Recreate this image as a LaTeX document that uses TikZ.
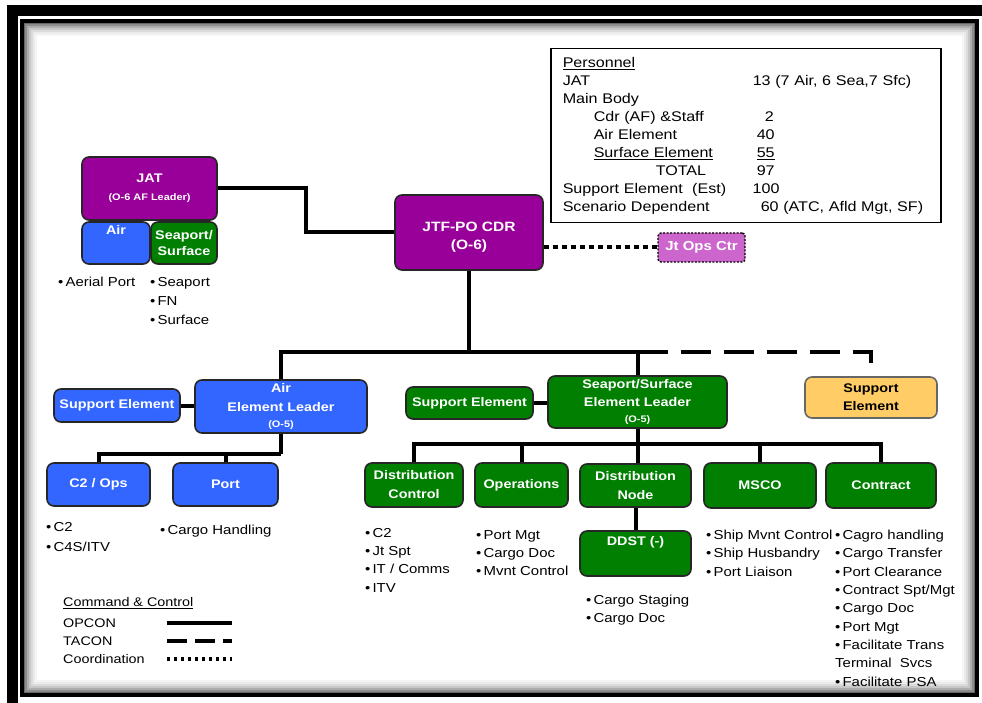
\documentclass[tikz,border=0pt]{standalone}
\usepackage{fontspec}
\setmainfont[FakeStretch=1.15]{Liberation Sans}
\definecolor{jtfpurple}{HTML}{990099}
\definecolor{opspurple}{HTML}{CC66CC}
\definecolor{airblue}{HTML}{3366FF}
\definecolor{seagreen}{HTML}{007F00}
\definecolor{suporange}{HTML}{FFCC66}
\usetikzlibrary{positioning}
\tikzstyle{unit} = [draw=black!85, line width=1.6pt, rounded corners=7pt, text=white, align=center, inner sep=1pt, font=\fontsize{12.5}{16}\selectfont\bfseries]
\tikzstyle{opcon} = [line width=4pt]
\tikzstyle{tacon} = [line width=4.5pt, dash pattern=on 30pt off 13pt]
\tikzstyle{coordline} = [line width=4pt, dash pattern=on 5pt off 4pt]
\tikzstyle{bullets} = [anchor=north west, align=left, inner sep=0pt, font=\fontsize{13}{18.3}\selectfont]
\tikzstyle{legend} = [anchor=west, inner sep=0pt, font=\fontsize{12.5}{15}\selectfont]
\newcommand{\itm}{\textbullet\,}
\newcommand{\smalltag}[1]{{\fontsize{9.5}{11}\selectfont #1}}
\newcommand{\upshift}[2]{\raisebox{#1}[0pt][0pt]{#2}}

\begin{document}
\begin{tikzpicture}[x=1pt, y=-1pt]
\useasboundingbox (0,0) rectangle (982,703);
% frame
\draw[line width=11pt] (12.5,11) rectangle (992,708);
\foreach \i/\g in {1/60,2/45,3/32,4/22,5/14,6/8,7/4}
  \draw[black!\g, line width=2pt] (22+2*\i,21+2*\i) rectangle (977-2*\i,695-2*\i);
\draw[line width=4pt] (22,21) rectangle (977,695);

% JAT
\node[unit, fill=jtfpurple, minimum width=135, minimum height=63] (jat) at (149.5,188.5) {JAT\\[2pt]\smalltag{(O-6 AF Leader)}};
\node[unit, fill=airblue, minimum width=68, minimum height=42] (air) at (116,243) {\upshift{8pt}{Air}};
\node[unit, fill=seagreen, minimum width=66, minimum height=42] (seasfc) at (184,243) {Seaport/\\Surface};
\node[bullets] (airnote) at (58,277) {\itm Aerial Port};
\node[bullets, font=\fontsize{13}{19}\selectfont] (seanote) at (150,277) {\itm Seaport\\\itm FN\\\itm Surface};

% commander
\node[unit, fill=jtfpurple, minimum width=148, minimum height=75, font=\fontsize{13.5}{18}\selectfont\bfseries] (jtf) at (469,232.5) {\upshift{-8pt}{\begin{tabular}{@{}c@{}}JTF-PO CDR\\(O-6)\end{tabular}}};
\node[unit, fill=opspurple, rounded corners=3pt, minimum width=87, minimum height=29, dash pattern=on 2pt off 1.5pt, draw=black, line width=1.4pt, font=\fontsize{13}{15}\selectfont\bfseries] (joc) at (701.5,247.5) {Jt Ops Ctr};

% personnel
\node[draw, line width=1.5pt, anchor=north west, text width=366pt, inner xsep=12pt, inner ysep=6pt, font=\fontsize{14}{18}\selectfont] (pers) at (550,48) {%
\begin{tabular}{@{}p{190pt}@{}l@{}}
\underline{Personnel} & \\
JAT & 13 (7 Air, 6 Sea,7 Sfc)\\
Main Body & \\
\hspace*{31pt}Cdr (AF) \&Staff & \hspace*{12pt}2\\
\hspace*{31pt}Air Element & \hspace*{4pt}40\\
\hspace*{31pt}\underline{Surface Element} & \hspace*{4pt}\underline{55}\\
\hspace*{93pt}TOTAL & \hspace*{4pt}97\\
Support Element\ \ (Est) & 100\\
Scenario Dependent & \hspace*{8pt}60 (ATC, Afld Mgt, SF)
\end{tabular}};

% air element
\node[unit, fill=airblue, minimum width=172, minimum height=53] (airl) at (281,406.5) {Air\\[3pt]Element Leader\\\smalltag{(O-5)}};
\node[unit, fill=airblue, minimum width=126, minimum height=33] (asup) at (117,405.5) {Support Element};
\node[unit, fill=airblue, minimum width=103, minimum height=43] (c2ops) at (98.5,484.5) {C2 / Ops};
\node[unit, fill=airblue, minimum width=105, minimum height=43] (port) at (225.5,484.5) {Port};
\node[bullets, font=\fontsize{13}{20}\selectfont] (c2note) at (46,522) {\itm C2\\\itm C4S/ITV};
\node[bullets] (portnote) at (160,525) {\itm Cargo Handling};

% seaport / surface element
\node[unit, fill=seagreen, minimum width=179, minimum height=52] (ssl) at (637.5,402) {Seaport/Surface\\[2pt]Element Leader\\\smalltag{(O-5)}};
\node[unit, fill=seagreen, minimum width=127, minimum height=32] (ssup) at (469.5,403) {Support Element};
\node[unit, fill=suporange, text=black, draw=black!60, minimum width=132, minimum height=41] (supo) at (871,397.5) {Support\\[2pt]Element};
\node[unit, fill=seagreen, minimum width=98, minimum height=44] (dctl) at (414,485) {Distribution\\[3pt]Control};
\node[unit, fill=seagreen, minimum width=93, minimum height=44] (ops) at (521.5,485) {Operations};
\node[unit, fill=seagreen, minimum width=111, minimum height=43] (dnode) at (635.5,485.5) {Distribution\\[3pt]Node};
\node[unit, fill=seagreen, minimum width=111, minimum height=45] (ddst) at (635.5,553.5) {\upshift{8pt}{DDST (-)}};
\node[unit, fill=seagreen, minimum width=112, minimum height=45] (msco) at (760,485.5) {MSCO};
\node[unit, fill=seagreen, minimum width=110, minimum height=45] (contr) at (881,485.5) {Contract};

\node[bullets] (dctlnote) at (365,528) {\itm C2\\\itm Jt Spt\\\itm IT / Comms\\\itm ITV};
\node[bullets] (opsnote) at (476,530) {\itm Port Mgt\\\itm Cargo Doc\\\itm Mvnt Control};
\node[bullets] (ddstnote) at (586,595) {\itm Cargo Staging\\\itm Cargo Doc};
\node[bullets] (msconote) at (706,530) {\itm Ship Mvnt Control\\\itm Ship Husbandry\\\itm Port Liaison};
\node[bullets] (contrnote) at (835,530) {\itm Cagro handling\\\itm Cargo Transfer\\\itm Port Clearance\\\itm Contract Spt/Mgt\\\itm Cargo Doc\\\itm Port Mgt\\\itm Facilitate Trans\\Terminal\ \ Svcs\\\itm Facilitate PSA};

% connectors
\draw[opcon] (jat.east) -- ++(88,0) |- (jtf.west);
\draw[coordline] (jtf.east |- joc.west) -- (joc.west);
\draw[opcon] (jtf.south) -- ++(0,81) coordinate (mainbar);
\draw[opcon] (airl.north) |- (mainbar) -| (ssl.north);
\draw[tacon] (ssl.north |- mainbar) -| (supo.north);
\draw[opcon] (asup.east) -- (asup.east -| airl.west);
\draw[opcon] (airl.south) -- ++(0,20) coordinate (airbar);
\draw[opcon] (c2ops.north) |- (airbar);
\draw[opcon] (port.north) -- (port.north |- airbar);
\draw[opcon] (ssup.east) -- (ssup.east -| ssl.west);
\draw[opcon] (ssl.south) -- ++(0,15) coordinate (ssbar);
\draw[opcon] (ssbar) -- (ssbar |- dnode.north);
\draw[opcon] (dctl.north) |- (ssbar) -| (contr.north);
\draw[opcon] (ops.north) -- (ops.north |- ssbar);
\draw[opcon] (msco.north) -- (msco.north |- ssbar);
\draw[opcon] (dnode.south) -- (ddst.north);

% legend
\node[legend] (lgtitle) at (63,603) {\underline{Command \& Control}};
\node[legend] (lgopcon) at (63,623) {OPCON};
\node[legend] (lgtacon) at (63,641) {TACON};
\node[legend] (lgcoord) at (63,659) {Coordination};
\draw[opcon] (lgopcon.west) ++(104,0) -- ++(65,0);
\draw[opcon, dash pattern=on 20pt off 8pt] (lgtacon.west) ++(104,0) -- ++(65,0);
\draw[line width=4pt, dash pattern=on 3pt off 4pt] (lgcoord.west) ++(104,0) -- ++(65,0);
\end{tikzpicture}
\end{document}
